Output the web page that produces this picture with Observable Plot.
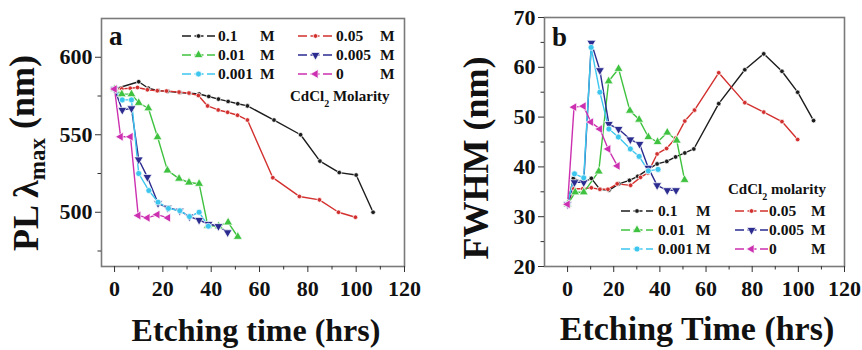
<!DOCTYPE html>
<html>
<head>
<meta charset="utf-8">
<script src="https://cdn.jsdelivr.net/npm/d3@7"></script>
<script src="https://cdn.jsdelivr.net/npm/@observablehq/plot@0.6"></script>
<style>
  html, body { margin: 0; padding: 0; background: #fff; }
  #wrap { position: relative; width: 862px; height: 350px; overflow: hidden; }
  #pa, #pb { position: absolute; top: 0; }
  #pa { left: 0; }
  #pb { left: 431px; }
  #wrap svg text, #wrap svg tspan { font-family: "Liberation Serif", "Times New Roman", serif !important; font-weight: bold !important; }
  #wrap svg [aria-label$="tick label"] { font-size: 22px !important; fill: #111; font-variant: normal !important; }
</style>
</head>
<body>
<div id="wrap"><div id="pa"></div><div id="pb"></div></div>
<script>
// ---------- DATA ----------
const seriesNames = ["0.1", "0.05", "0.01", "0.005", "0.001", "0"];
const xTicks = [0, 20, 40, 60, 80, 100, 120];
const xMinor = [10, 30, 50, 70, 90, 110];
const aYTicks = [500, 550, 600];
const aYMinor = [475, 525, 575];
const bYTicks = [20, 30, 40, 50, 60, 70];
const bYMinor = [25, 35, 45, 55, 65];

// Panel a: PL lambda max (nm) vs etching time (hrs)
const a_01 = [[0,579.5],[10,584.2],[14,580],[18,578.5],[22,578],[27,577.3],[31,576.8],[35,576.3],[39,574.7],[43,573],[47,571.5],[51,570],[55,568.6],[66,559.5],[77,550],[85,533],[93,525.6],[100,524],[107,500]];
const a_005 = [[0,579.6],[3,579.6],[6.5,580],[9.5,580.5],[13.6,579],[17.7,578.4],[21.5,578.2],[26.7,577.5],[30.8,576.9],[34.7,575.3],[38.5,568.6],[42.9,566],[46.8,564.5],[50.9,562.6],[55,559.5],[65.5,522.3],[76.5,510.2],[84.8,508],[92.7,500],[99.7,496.8]];
const a_001 = [[0,579.5],[3,576.2],[7,576.2],[10,570.6],[14,567.1],[17.8,548.5],[21.9,527],[26.7,521.7],[30.8,519.2],[35,518.4],[38.6,491.4],[43.1,491],[47,493.5],[51,484.2]];
const a_0005 = [[0,579.5],[3.2,566],[7,567],[10,534],[13.6,522.7],[18,505.8],[22,502.9],[27,501],[31,497.2],[35,495],[38.9,492.4],[43,491],[46.8,487]];
const a_0001 = [[0,579.5],[3.2,572.5],[7,572.5],[10,525],[14.2,514],[18,506.5],[22.3,502.5],[27,501],[31,497.2],[35,500],[38.8,491]];
const a_0 = [[0,579.5],[2.5,548.7],[6.6,548.7],[9.8,497.9],[13.6,496.4],[17.7,498.5],[22.1,496.4]];

// Panel b: FWHM (nm) vs etching time (hrs)
const b_01 = [[0,32.5],[2.5,37.7],[7,36.9],[10.3,37.7],[14,35.5],[17.9,35.3],[22.2,36.6],[26.8,37.3],[30.4,38.1],[35.2,39.6],[38.8,40.6],[43,41.1],[46.8,42],[50.8,42.8],[54.7,43.6],[65.5,52.7],[76.8,59.5],[85,62.7],[92.9,59.2],[99.7,55],[106.6,49.3]];
const b_005 = [[0,32.5],[2.7,35.6],[6.6,35.6],[10.3,35.8],[14,35.5],[17.5,35.5],[21.5,36.6],[27.3,36.3],[31.6,37.9],[34.8,38.8],[38.8,42.6],[42.9,43.7],[46.9,45.8],[50.8,49.2],[55,51.4],[65.5,58.9],[76.8,52.9],[85,51],[92.9,49.1],[99.7,45.5]];
const b_001 = [[0,32.5],[3.3,34.9],[7,34.9],[13.5,39.1],[17.8,57.2],[22.1,59.7],[27,51.3],[31,49.5],[35,46],[39,45],[43.2,46.9],[47.3,45.3],[50.7,37.4]];
const b_0005 = [[0,32.5],[3,36.9],[7,36.9],[10.3,64.9],[14,59.4],[17.9,48.6],[22.1,47.6],[27.2,45.5],[31.2,44.6],[35,39.8],[38.8,36.3],[43.2,35.3],[47,35.3]];
const b_0001 = [[0,32.5],[3,38.6],[7,37.8],[10.2,64],[14,55],[17.9,47.6],[22,46],[27.2,43.6],[31,42.1],[35,39.2],[39.2,39.5]];
const b_0 = [[0,32.5],[2.8,52],[6.9,52.2],[10.1,49],[14,47.6],[17.6,43.6],[21.6,40.2]];

// ---------- STYLE ----------
const colors = ["#1c1c1c", "#d2302e", "#3fc23f", "#2b2b90", "#3cc6ee", "#cc30b0"];

const triUp = d3.symbolTriangle;
const triDown = {draw(c, size) { const y = -Math.sqrt(size / (Math.sqrt(3) * 3)); c.moveTo(0, -2 * y); c.lineTo(-Math.sqrt(3) * y, y); c.lineTo(Math.sqrt(3) * y, y); c.closePath(); }};
const triLeft = {draw(c, size) { const y = -Math.sqrt(size / (Math.sqrt(3) * 3)); c.moveTo(2 * y, 0); c.lineTo(-y, -Math.sqrt(3) * y); c.lineTo(-y, Math.sqrt(3) * y); c.closePath(); }};
const symbols = [d3.symbolCircle, d3.symbolCircle, triUp, triDown, d3.symbolCircle, triLeft];
const radii = [2.3, 2.3, 3.3, 3.3, 3.0, 3.3];

function toRows(arr) { return arr.map(([t, v]) => ({t, v})); }

function makePanel({el, width, margins, xDomain, yDomain, yTicks, yMinor, data}) {
  const marks = [Plot.frame({stroke: "#7a7a7a", strokeWidth: 1.6})];
  marks.push(Plot.axisX({ticks: xTicks, tickSize: 6, tickPadding: 8, fontSize: 22, fontWeight: "bold", label: null, stroke: "#333"}));
  marks.push(Plot.axisX({ticks: xMinor, tickSize: 3.5, text: null, label: null, stroke: "#333"}));
  marks.push(Plot.axisY({ticks: yTicks, tickSize: 6, tickPadding: 3, fontSize: 22, fontWeight: "bold", label: null, stroke: "#333"}));
  marks.push(Plot.axisY({ticks: yMinor, tickSize: 3.5, text: null, label: null, stroke: "#333"}));
  data.forEach((arr, i) => {
    marks.push(Plot.line(toRows(arr), {x: "t", y: "v", stroke: colors[i], strokeWidth: 1.4}));
  });
  data.forEach((arr, i) => {
    marks.push(Plot.dot(toRows(arr), {x: "t", y: "v", symbol: symbols[i], r: radii[i], fill: colors[i], stroke: "white", strokeWidth: 0.7}));
  });
  const svg = Plot.plot({
    width, height: 350,
    marginLeft: margins[0], marginRight: margins[1], marginTop: margins[2], marginBottom: margins[3],
    x: {domain: xDomain},
    y: {domain: yDomain},
    style: {background: "white", overflow: "visible"},
    marks
  });
  el.appendChild(svg);
  return d3.select(svg);
}

function addLegend(svg, rows, cols, title) {
  const g = svg.append("g").attr("font-size", 15.5).attr("fill", "#111").attr("text-anchor", "start");
  seriesNames.forEach((name, i) => {
    const r = Math.floor(i / 2), c = i % 2;
    const y = rows[r], col = cols[c];
    g.append("line").attr("x1", col.x1).attr("x2", col.x2).attr("y1", y).attr("y2", y)
      .attr("stroke", colors[i]).attr("stroke-width", 1.6).attr("stroke-dasharray", "9,3.5");
    const size = radii[i] * radii[i] * Math.PI;
    g.append("path").attr("d", d3.symbol(symbols[i], size)()).attr("transform", `translate(${(col.x1 + col.x2) / 2},${y})`)
      .attr("fill", colors[i]).attr("stroke", "white").attr("stroke-width", 0.7);
    g.append("text").attr("x", col.tx).attr("y", y).attr("dy", "0.35em").text(name);
    g.append("text").attr("x", col.mx).attr("y", y).attr("dy", "0.35em").text("M");
  });
  const t = g.append("text").attr("x", title.x).attr("y", title.y).attr("dy", "0.35em").attr("font-size", 15);
  t.append("tspan").text("CdCl");
  t.append("tspan").text("2").attr("font-size", 10).attr("dy", "0.6em");
  t.append("tspan").text(" " + title.word).attr("dy", "-0.4em");
}

// ---------- PANEL A ----------
const svgA = makePanel({
  el: document.getElementById("pa"), width: 431, margins: [101, 27, 18, 84],
  xDomain: [-5.4, 120], yDomain: [465, 625], yTicks: aYTicks, yMinor: aYMinor,
  data: [a_01, a_005, a_001, a_0005, a_0001, a_0]
});
svgA.append("text").attr("x", 109).attr("y", 45).attr("text-anchor", "start").attr("font-size", 27).attr("fill", "#111").text("a");
addLegend(svgA, [36, 55, 74],
  [{x1: 182, x2: 215, tx: 218, mx: 260}, {x1: 298, x2: 333, tx: 336, mx: 380}],
  {x: 290, y: 96, word: "Molarity"});
{
  const t = svgA.append("text").attr("transform", "translate(38,153) rotate(-90)").attr("text-anchor", "middle")
    .attr("font-size", 36).attr("fill", "#111");
  t.append("tspan").text("PL λ");
  t.append("tspan").text("max").attr("font-size", 23).attr("dy", "0.3em");
  t.append("tspan").text(" (nm)").attr("dy", "-0.3em");
  svgA.append("text").attr("x", 256).attr("y", 341).attr("text-anchor", "middle")
    .attr("font-size", 32).attr("fill", "#111").text("Etching time (hrs)");
}

// ---------- PANEL B ----------
const svgB = makePanel({
  el: document.getElementById("pb"), width: 431, margins: [113, 18, 17, 84],
  xDomain: [-10, 120], yDomain: [20, 70], yTicks: bYTicks, yMinor: bYMinor,
  data: [b_01, b_005, b_001, b_0005, b_0001, b_0]
});
svgB.append("text").attr("x", 121).attr("y", 46).attr("text-anchor", "start").attr("font-size", 27).attr("fill", "#111").text("b");
addLegend(svgB, [211, 230, 249],
  [{x1: 190, x2: 222, tx: 227, mx: 265}, {x1: 304, x2: 337, tx: 338, mx: 380}],
  {x: 297, y: 189, word: "molarity"});
{
  svgB.append("text").attr("transform", "translate(57,158) rotate(-90)").attr("text-anchor", "middle")
    .attr("font-size", 36).attr("fill", "#111").text("FWHM (nm)");
  svgB.append("text").attr("x", 266).attr("y", 340).attr("text-anchor", "middle")
    .attr("font-size", 34).attr("fill", "#111").text("Etching Time (hrs)");
}
</script>
</body>
</html>
